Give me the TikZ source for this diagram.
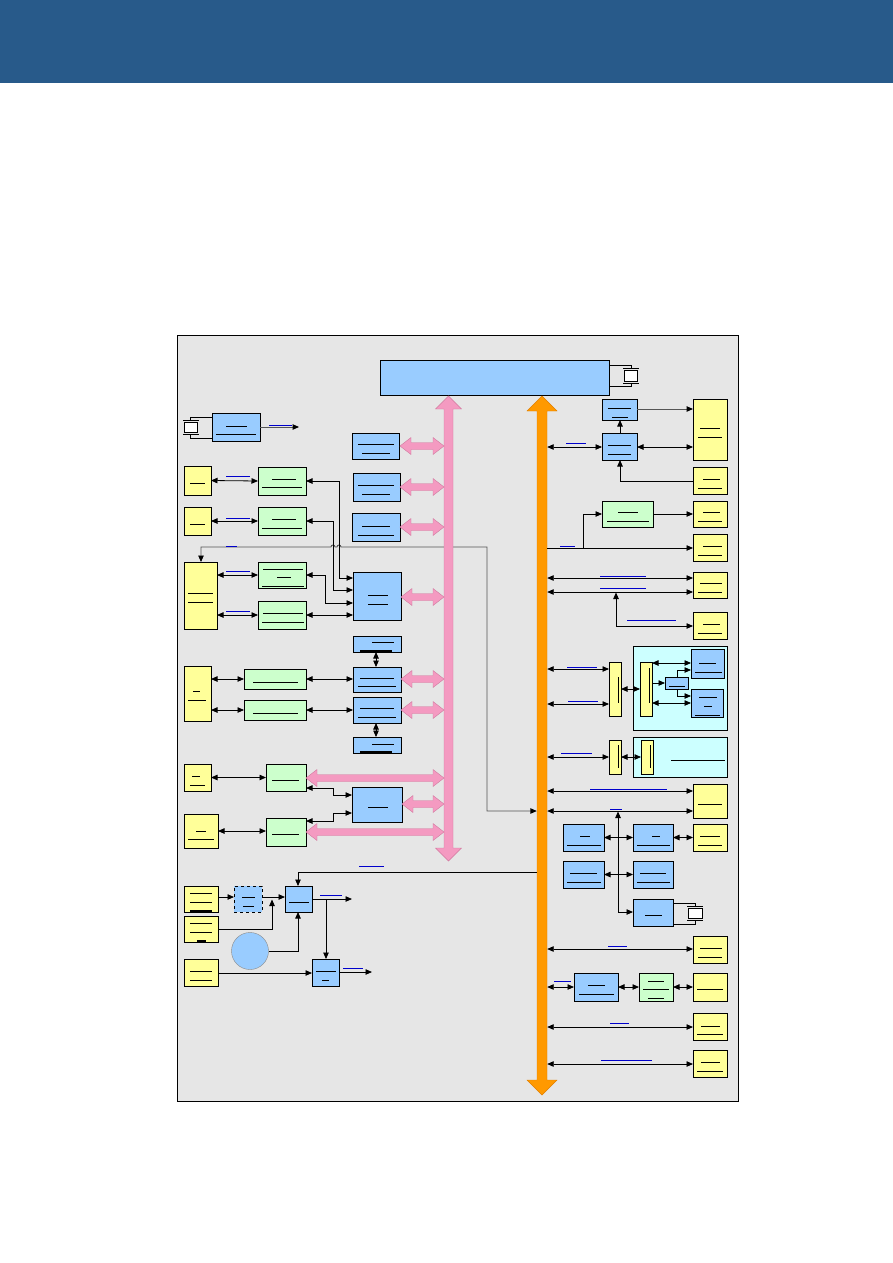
\documentclass[tikz,border=0pt]{standalone}
\usetikzlibrary{arrows.meta}
\definecolor{hdr}{HTML}{285A8A}
\definecolor{cgray}{HTML}{E6E6E6}
\definecolor{cblue}{HTML}{99CCFF}
\definecolor{cyel}{HTML}{FFFF99}
\definecolor{cgrn}{HTML}{CCFFCC}
\definecolor{ccyan}{HTML}{CCFFFF}
\definecolor{cpink}{HTML}{F49AC1}
\definecolor{cpinkd}{HTML}{D07A9F}
\definecolor{corg}{HTML}{FF9900}
\definecolor{corgd}{HTML}{E07F00}
\definecolor{clbl}{HTML}{0000CC}
\definecolor{cline}{HTML}{555555}
\newcommand\mybox[6]{\node[#2, minimum width={(#5-#3)*1pt}, minimum height={(#6-#4)*1pt}] (#1) at ({(#3+#5)/2},{(#4+#6)/2}) {};}
\newcommand\tline[3]{\draw[txt] (#1,#3) -- (#2,#3);}
\newcommand\bline[3]{\draw[lbl] (#1,#3) -- (#2,#3);}
\newcommand\innerv[3]{\draw[txt] (#1,#2) -- (#1,#3);}
\newcommand\pinkh[3]{\path[pinkar] (#1,#3) -- ++(11,-8.5) -- ++(0,5) -- ({#2-11},{#3-3.5}) -- ++(0,-5) -- (#2,#3) -- ++(-11,8.5) -- ++(0,-5) -- ({#1+11},{#3+3.5}) -- ++(0,5) -- cycle;}
\tikzset{
  box/.style={draw=black, line width=0.9pt, inner sep=0pt, outer sep=0pt},
  bb/.style={box, fill=cblue},
  yb/.style={box, fill=cyel},
  gb/.style={box, fill=cgrn},
  cb/.style={box, fill=ccyan},
  txt/.style={line width=0.8pt, black},
  lbl/.style={line width=0.9pt, clbl},
  conn/.style={line width=0.8pt, black},
  tip/.tip={Triangle[length=6.5pt,width=5.5pt,fill=black,color=black]},
  ar/.style={conn, -tip},
  dar/.style={conn, tip-tip},
  pinkar/.style={fill=cpink, draw=cpinkd, line width=0.4pt},
  xt/.style={line width=0.8pt, black}
}
\begin{document}
\begin{tikzpicture}[x=1pt,y=-1pt]
\useasboundingbox (0,0) rectangle (893,1263);
\fill[hdr] (0,0) rectangle (893,83);
\draw[fill=cgray, line width=0.8pt] (177,335) rectangle (738,1101);

% bus anchors
\node[inner sep=0pt, minimum width=10pt, minimum height=660pt] (ob) at (542,745) {};
\node[inner sep=0pt, minimum width=9pt, minimum height=430pt] (pb) at (448.5,628) {};

% ---------- boxes ----------
\mybox{cpu}{bb}{380}{360}{609}{395}
\mybox{K}{bb}{212}{413}{260}{441}
\mybox{B1}{bb}{352}{433}{399}{459}
\mybox{B2}{bb}{353}{473}{400}{501}
\mybox{B3}{bb}{352}{513}{400}{541}
\mybox{Y1}{yb}{184}{466}{211}{495}
\mybox{G1}{gb}{258}{467}{306}{495}
\mybox{Y2}{yb}{184}{507}{211}{535}
\mybox{G2}{gb}{258}{507}{306}{535}
\mybox{Y3}{yb}{184}{562}{217}{629}
\mybox{G3}{gb}{258}{562}{306}{588}
\mybox{G4}{gb}{258}{601}{306}{629}
\mybox{B4}{bb}{353}{572}{401}{620}
\mybox{B5}{bb}{353}{636}{401}{652}
\mybox{B6}{bb}{353}{667}{401}{692}
\mybox{B7}{bb}{353}{697}{401}{723}
\mybox{B8}{bb}{353}{737}{401}{753}
\mybox{Y4}{yb}{184}{666}{211}{721}
\mybox{G5}{gb}{244}{669}{306}{689}
\mybox{G6}{gb}{244}{700}{306}{720}
\mybox{Y5}{yb}{184}{764}{211}{791}
\mybox{G7}{gb}{266}{764}{306}{791}
\mybox{B9}{bb}{352}{787}{402}{822}
\mybox{Y6}{yb}{184}{814}{218}{848}
\mybox{G8}{gb}{266}{818}{306}{846}
\mybox{Y7}{yb}{184}{886}{218}{912}
\mybox{D}{bb,dashed}{234}{886}{262}{912}
\mybox{B10}{bb}{285}{886}{312}{912}
\mybox{Y8}{yb}{184}{916}{218}{942}
\node[circle, fill=cblue, draw=cline!70, line width=0.4pt, minimum size=37pt, inner sep=0pt] (C) at (250,951) {};
\mybox{B11}{bb}{312}{959}{339}{986}
\mybox{Y9}{yb}{184}{959}{218}{986}
% right
\mybox{R1}{bb}{602}{399}{637}{420}
\mybox{YR1}{yb}{693}{399}{727}{460}
\mybox{R2}{bb}{602}{433}{637}{460}
\mybox{YR2}{yb}{693}{467}{727}{494}
\mybox{GR1}{gb}{602}{501}{653}{527}
\mybox{YR3}{yb}{693}{501}{727}{527}
\mybox{YR4}{yb}{693}{534}{727}{561}
\mybox{YR5}{yb}{693}{572}{727}{598}
\mybox{YR6}{yb}{693}{612}{727}{639}
\mybox{C1}{cb}{633}{646}{727}{730}
\mybox{YS1}{yb}{609}{662}{621}{716}
\mybox{YS2}{yb}{640}{662}{652}{716}
\mybox{BS}{bb}{665}{677}{688}{689}
\mybox{BR1}{bb}{691}{649}{724}{678}
\mybox{BR2}{bb}{691}{689}{723}{717}
\mybox{C2}{cb}{633}{737}{727}{777}
\mybox{YS3}{yb}{609}{740}{621}{774}
\mybox{YS4}{yb}{641}{740}{653}{774}
\mybox{YR7}{yb}{693}{784}{727}{818}
\mybox{BL1}{bb}{563}{824}{604}{851}
\mybox{BL2}{bb}{633}{824}{673}{851}
\mybox{YR8}{yb}{693}{824}{727}{851}
\mybox{BL3}{bb}{563}{861}{604}{888}
\mybox{BL4}{bb}{633}{861}{673}{888}
\mybox{BL5}{bb}{633}{899}{673}{926}
\mybox{YR9}{yb}{693}{936}{727}{963}
\mybox{BL6}{bb}{574}{973}{618}{1001}
\mybox{GL}{gb}{639}{973}{673}{1001}
\mybox{YR10}{yb}{693}{973}{727}{1001}
\mybox{YR11}{yb}{693}{1013}{727}{1040}
\mybox{YR12}{yb}{693}{1050}{727}{1077}

% ---------- long gray line (behind pink bus) ----------
\draw[dar, cline, line width=0.9pt] (Y3.north -| 201,0) -- (201,547) -- (331,547)
  arc[start angle=180, end angle=360, radius=2] -- (337,547)
  arc[start angle=180, end angle=360, radius=2] -- (487,547) -- (487,811) -- (ob.west |- 0,811);
\bline{226}{237}{546}

% ---------- buses ----------
\path[pinkar] (448.5,396) -- (461.5,409) -- (453,409) -- (453,848) -- (461.5,848) -- (448.5,861)
  -- (435.5,848) -- (444,848) -- (444,409) -- (435.5,409) -- cycle;
\path[fill=corg, draw=corgd, line width=0.4pt] (542,396) -- (557,411) -- (547,411) -- (547,1080) -- (557,1080)
  -- (542,1095) -- (527,1080) -- (537,1080) -- (537,411) -- (527,411) -- cycle;

% pink horizontal arrows
\pinkh{400}{444}{446}
\pinkh{400}{444}{487}
\pinkh{400}{444}{527}
\pinkh{401}{444}{597}
\pinkh{401}{444}{679}
\pinkh{401}{444}{710}
\pinkh{306}{444}{778}
\pinkh{402}{444}{804}
\pinkh{306}{444}{832}

% ---------- crystals ----------
\draw[xt] (cpu.east |- 0,365) -- (631,365) -- (631,368.5);
\draw[xt] (cpu.east |- 0,386) -- (631,386) -- (631,383);
\draw[xt] (623,368.5) -- (639,368.5);
\draw[xt] (623,383) -- (639,383);
\draw[xt, fill=white] (624.5,370.5) rectangle (637.5,381);

\draw[xt] (K.west |- 0,417) -- (190,417) -- (190,420.5);
\draw[xt] (K.west |- 0,438) -- (190,438) -- (190,434);
\draw[xt] (183,420.5) -- (199,420.5);
\draw[xt] (183,434) -- (199,434);
\draw[xt, fill=white] (184,422.5) rectangle (197.5,432);

\draw[xt] (BL5.east |- 0,903) -- (695,903) -- (695,906.5);
\draw[xt] (BL5.east |- 0,924) -- (695,924) -- (695,920.5);
\draw[xt] (687,906.5) -- (703,906.5);
\draw[xt] (687,920.5) -- (703,920.5);
\draw[xt, fill=white] (688,908.5) rectangle (702,918.5);

% ---------- left connectors ----------
\draw[ar, cline, line width=1pt] (K.east) -- (299,427);
\bline{269}{292}{425}
\draw[dar] (Y1.east) -- (G1.west);
\bline{226}{250}{476}
\draw[dar] (Y2.east) -- (G2.west);
\bline{226}{250}{518}
\draw[dar] (G1.east) -- (339,481) -- (339,578) -- (B4.west |- 0,578);
\draw[dar] (G2.east) -- (333,521) -- (333,590) -- (B4.west |- 0,590);
\draw[dar] (Y3.east |- G3.west) -- (G3.west);
\bline{226}{250}{571}
\draw[dar] (Y3.east |- G4.west) -- (G4.west);
\bline{226}{250}{611}
\draw[dar] (G3.east) -- (325,575) -- (325,603) -- (B4.west |- 0,603);
\draw[dar] (G4.east) -- (G4.east -| B4.west);
\draw[dar] (B5.south -| 376,0) -- (B6.north -| 376,0);
\draw[dar] (B7.south -| 376,0) -- (B8.north -| 376,0);
\draw[dar] (Y4.east |- G5.west) -- (G5.west);
\draw[dar] (G5.east) -- (G5.east -| B6.west);
\draw[dar] (Y4.east |- G6.west) -- (G6.west);
\draw[dar] (G6.east) -- (G6.east -| B7.west);
\draw[dar] (Y5.east) -- (G7.west);
\draw[dar] (G7.east |- 0,788) -- (333,788) -- (333,795) -- (B9.west |- 0,795);
\draw[dar] (Y6.east |- 0,831) -- (G8.west |- 0,831);
\draw[dar] (G8.east |- 0,821) -- (333,821) -- (333,813) -- (B9.west |- 0,813);
% bottom-left system
\draw[ar] (Y7.east |- 0,897) -- (D.west |- 0,897);
\draw[ar] (D.east |- 0,897) -- (B10.west |- 0,897);
\draw[ar] (Y8.east |- 0,929) -- (272,929) -- (272,899.5);
\draw[ar] (C.east) -- (298,951) -- (B10.south -| 298,0);
\draw[ar] (ob.west |- 0,872) -- (298,872) -- (B10.north -| 298,0);
\bline{359}{384}{866}
\draw[ar] (B10.east |- 0,899) -- (352,899);
\bline{320}{342}{895}
\draw[ar] (326,899) -- (B11.north -| 326,0);
\draw[ar] (Y9.east |- 0,973) -- (B11.west |- 0,973);
\draw[ar] (B11.east |- 0,972) -- (372,972);
\bline{343}{363}{968}

% ---------- right connectors ----------
\draw[ar, cline, line width=1pt] (R1.east |- 0,409) -- (YR1.west |- 0,409);
\draw[ar] (R2.north -| 620,0) -- (R1.south -| 620,0);
\draw[dar] (R2.east |- 0,447) -- (YR1.west |- 0,447);
\draw[dar] (ob.east |- 0,447) -- (R2.west |- 0,447);
\bline{566}{586}{443}
\draw[ar] (YR2.west |- 0,481) -- (620,481) -- (R2.south -| 620,0);
\draw[ar] (GR1.east |- 0,514) -- (YR3.west |- 0,514);
\draw[ar] (ob.east |- 0,548) -- (YR4.west |- 0,548);
\bline{560}{575}{546}
\draw[ar] (583,548) -- (583,514) -- (GR1.west |- 0,514);
\draw[dar] (ob.east |- 0,578) -- (YR5.west |- 0,578);
\bline{600}{646}{576}
\draw[dar] (ob.east |- 0,592) -- (YR5.west |- 0,592);
\bline{600}{646}{588}
\draw[dar] (YR6.west |- 0,626) -- (616,626) -- (616,592.5);
\bline{627}{676}{620}
\draw[dar] (ob.east |- 0,669) -- (YS1.west |- 0,669);
\bline{567}{597}{667}
\draw[dar] (ob.east |- 0,704) -- (YS1.west |- 0,704);
\bline{568}{598}{701}
\draw[dar] (YS1.east |- 0,689) -- (YS2.west |- 0,689);
\draw[ar] (YS2.east |- 0,683) -- (BS.west |- 0,683);
\draw[dar] (YS2.east |- 0,663) -- (BR1.west |- 0,663);
\draw[dar] (YS2.east |- 0,703) -- (BR2.west |- 0,703);
\draw[ar] (BS.north -| 677,0) -- (677,670) -- (BR1.west |- 0,670);
\draw[ar] (BS.south -| 677,0) -- (677,696) -- (BR2.west |- 0,696);
\draw[dar] (ob.east |- 0,757) -- (YS3.west |- 0,757);
\bline{561}{592}{753}
\draw[dar] (YS3.east |- 0,757) -- (YS4.west |- 0,757);
\draw[dar] (ob.east |- 0,791) -- (YR7.west |- 0,791);
\bline{590}{667}{789}
\draw[dar] (ob.east |- 0,811) -- (YR7.west |- 0,811);
\bline{610}{622}{809}
\draw[dar] (BL5.west |- 0,912) -- (618,912) -- (618,811.5);
\draw[dar] (BL1.east) -- (BL2.west);
\draw[dar] (BL2.east) -- (YR8.west);
\draw[dar] (BL3.east) -- (BL4.west);
\draw[dar] (ob.east |- 0,949) -- (YR9.west |- 0,949);
\bline{608}{627}{946}
\draw[dar] (ob.east |- 0,987) -- (BL6.west |- 0,987);
\bline{554}{571}{981}
\draw[dar] (BL6.east) -- (GL.west);
\draw[dar] (GL.east) -- (YR10.west);
\draw[dar] (ob.east |- 0,1027) -- (YR11.west |- 0,1027);
\bline{610}{629}{1023}
\draw[dar] (ob.east |- 0,1064) -- (YR12.west |- 0,1064);
\bline{601}{652}{1060}

% ---------- text strokes inside boxes ----------
\tline{226}{247}{426}\tline{216}{256}{434}
\tline{358}{394}{444}\tline{362}{390}{453}
\tline{358}{394}{485}\tline{362}{390}{494}
\tline{362}{390}{526}\tline{358}{394}{535}
\tline{190}{205}{483}
\tline{272}{296}{479}\tline{262}{302}{487}
\tline{190}{205}{524}
\tline{272}{296}{519}\tline{262}{302}{528}
\tline{188}{213}{593}\tline{188}{213}{602}
\tline{263}{303}{569}\tline{277}{291}{577}\tline{262}{304}{586}
\tline{263}{303}{613}\tline{262}{304}{622}
\tline{368}{388}{595}\tline{368}{388}{604}
\tline{372}{394}{642}\draw[txt, line width=1.2pt] (360,651) -- (392,651);
\tline{360}{394}{678}\tline{358}{396}{686}
\tline{360}{394}{708}\tline{358}{396}{717}
\tline{372}{394}{744}\draw[txt, line width=1.2pt] (360,752) -- (392,752);
\tline{193}{200}{691}\tline{188}{206}{700}
\tline{253}{298}{682}
\tline{253}{298}{713}
\tline{192}{200}{776}\tline{190}{205}{785}
\tline{272}{299}{780}
\tline{368}{388}{807}
\tline{196}{206}{831}\tline{188}{214}{839}
\tline{272}{299}{834}
\tline{190}{212}{893}\tline{190}{212}{902}\draw[txt, line width=1.2pt] (190,911) -- (212,911);
\tline{242}{255}{897}\tline{243}{254}{906}
\tline{289}{309}{902}
\tline{190}{212}{923}\tline{190}{212}{932}\draw[txt, line width=1.2pt] (197,941) -- (206,941);
\tline{316}{336}{971}\tline{322}{329}{980}
\tline{190}{212}{971}\tline{190}{212}{980}
% right texts
\tline{608}{631}{408}\tline{612}{628}{417}
\tline{700}{720}{428}\tline{698}{722}{437}
\tline{608}{631}{445}\tline{608}{631}{454}
\tline{703}{720}{479}\tline{698}{722}{488}
\tline{618}{638}{512}\tline{607}{649}{521}
\tline{703}{720}{512}\tline{698}{722}{521}
\tline{703}{722}{546}\tline{698}{722}{555}
\tline{700}{722}{583}\tline{698}{722}{592}
\tline{703}{720}{624}\tline{698}{722}{633}
\innerv{618}{677}{703}
\innerv{649}{668}{703}
\tline{669}{685}{686}
\tline{699}{716}{663}\tline{695}{722}{672}
\tline{699}{717}{697}\tline{704}{712}{706}\tline{695}{720}{715}
\innerv{618}{745}{768}
\innerv{650}{745}{768}
\tline{671}{725}{760}
\tline{698}{722}{804}
\tline{580}{590}{836}\tline{567}{601}{845}
\tline{652}{660}{836}\tline{637}{670}{845}
\tline{700}{720}{836}\tline{698}{722}{845}
\tline{570}{597}{873}\tline{567}{601}{882}
\tline{640}{666}{873}\tline{637}{670}{882}
\tline{645}{662}{915}
\tline{700}{722}{948}\tline{698}{722}{957}
\tline{588}{605}{985}\tline{579}{614}{994}
\tline{648}{664}{981}\tline{643}{669}{989}\tline{648}{664}{998}
\tline{697}{723}{989}
\tline{701}{720}{1026}\tline{697}{723}{1034}
\tline{701}{720}{1062}\tline{697}{723}{1071}
\end{tikzpicture}
\end{document}
